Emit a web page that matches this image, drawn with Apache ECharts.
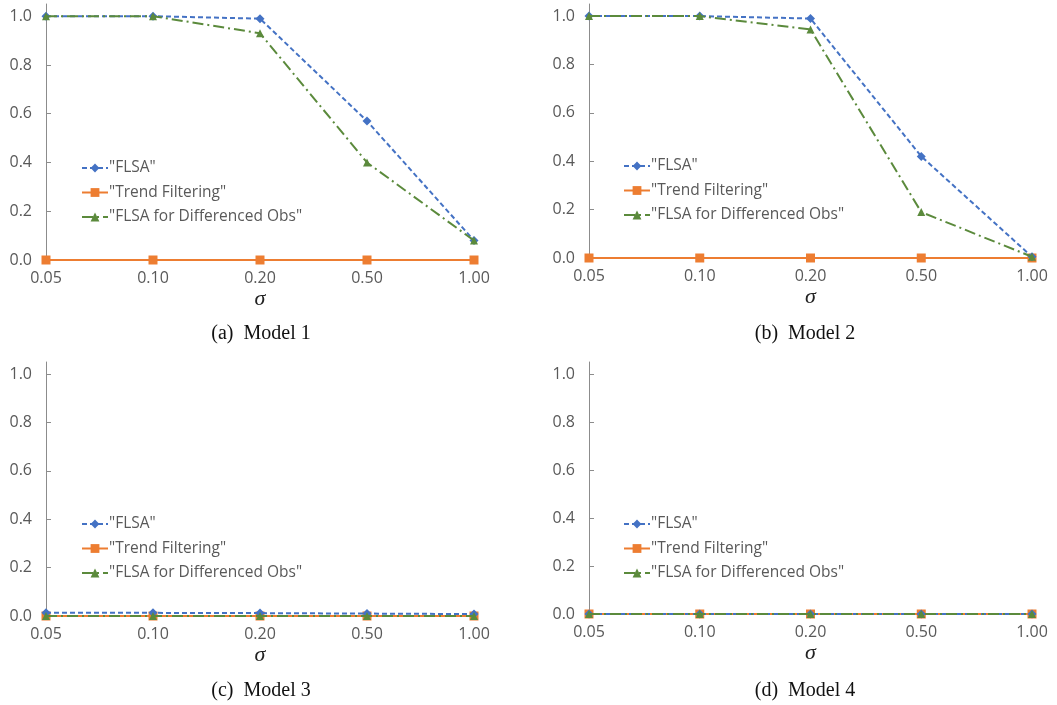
<!DOCTYPE html>
<html>
<head>
<meta charset="utf-8">
<script src="https://cdn.jsdelivr.net/npm/echarts@6/dist/echarts.min.js"></script>
<style>
  html, body { margin: 0; padding: 0; background: #fff; }
  #chart { width: 1057px; height: 705px; }
</style>
</head>
<body>
<div id="chart"></div>
<script>
// sigma levels on the x axis
const sigmas = ['0.05', '0.10', '0.20', '0.50', '1.00'];
const yTicks = [0, 0.2, 0.4, 0.6, 0.8, 1.0];
const seriesNames = ['"FLSA"', '"Trend Filtering"', '"FLSA for Differenced Obs"'];
const captions = ['(a)  Model 1', '(b)  Model 2', '(c)  Model 3', '(d)  Model 4'];

// values per model
const flsa1 = [1.0, 1.0, 0.99, 0.57, 0.08];
const trend1 = [0, 0, 0, 0, 0];
const diff1 = [1.0, 1.0, 0.93, 0.40, 0.08];

const flsa2 = [1.0, 1.0, 0.99, 0.42, 0.005];
const trend2 = [0, 0, 0, 0, 0];
const diff2 = [1.0, 1.0, 0.945, 0.19, 0.005];

const flsa3 = [0.013, 0.013, 0.012, 0.010, 0.008];
const trend3 = [0, 0, 0, 0, 0];
const diff3 = [0, 0, 0, 0, 0];

const flsa4 = [0, 0, 0, 0, 0];
const trend4 = [0, 0, 0, 0, 0];
const diff4 = [0, 0, 0, 0, 0];

const panels = [
    { data: [flsa1, trend1, diff1], grid: { left: 46, right: 583, top: 4, bottom: 445 }, legend: { left: 76, top: 155 }, cap: { x: 256, y: 319 } },
    { data: [flsa2, trend2, diff2], grid: { left: 589, right: 25, top: 4, bottom: 447 }, legend: { left: 618, top: 153 }, cap: { x: 800, y: 319 } },
    { data: [flsa3, trend3, diff3], grid: { left: 46, right: 583, top: 362, bottom: 89 }, legend: { left: 76, top: 511 }, cap: { x: 256, y: 676 } },
    { data: [flsa4, trend4, diff4], grid: { left: 589, right: 25, top: 362, bottom: 91 }, legend: { left: 618, top: 511 }, cap: { x: 800, y: 676 } }
];

const colors = ['#4472C4', '#ED7D31', '#5B8A3C'];
const symbols = ['diamond', 'rect', 'triangle'];
const symbolSizes = [9, 9, 8];
const lineTypes = [[5, 3], 'solid', [11, 4, 2, 4]];
const labelColor = '#595959';
const uiFont = 'Open Sans';

const option = {
    animation: false,
    backgroundColor: '#fff',
    grid: [],
    xAxis: [],
    yAxis: [],
    legend: [],
    title: [],
    series: []
};

panels.forEach((p, i) => {
    option.grid.push(p.grid);
    option.xAxis.push({
        type: 'category',
        gridIndex: i,
        data: sigmas,
        boundaryGap: false,
        axisLine: { lineStyle: { color: '#d9d9d9' } },
        axisTick: { show: false },
        axisLabel: { color: labelColor, fontSize: 16, fontFamily: uiFont, margin: 10 },
        name: 'σ',
        nameLocation: 'middle',
        nameGap: 28,
        nameTextStyle: { fontFamily: 'Liberation Serif', fontStyle: 'italic', fontSize: 22, color: '#222' }
    });
    option.yAxis.push({
        type: 'value',
        gridIndex: i,
        min: 0,
        max: 1.05,
        splitLine: { show: false },
        axisLine: { show: true, lineStyle: { color: '#8c8c8c' } },
        axisTick: { show: true, inside: true, length: 5, lineStyle: { color: '#8c8c8c' }, customValues: yTicks },
        axisLabel: {
            color: labelColor, fontSize: 16, fontFamily: uiFont, margin: 14,
            customValues: yTicks,
            formatter: v => v.toFixed(1)
        }
    });
    option.legend.push({
        left: p.legend.left,
        top: p.legend.top,
        orient: 'vertical',
        itemGap: 8.5,
        itemWidth: 26,
        itemHeight: 11,
        data: seriesNames,
        textStyle: { color: labelColor, fontSize: 15.5, fontFamily: uiFont, padding: [0, 0, 0, -4] }
    });
    option.title.push({
        text: captions[i],
        left: p.cap.x,
        top: p.cap.y,
        textAlign: 'center',
        textStyle: { fontFamily: 'Liberation Serif', fontWeight: 'normal', fontSize: 20, color: '#111' }
    });
    p.data.forEach((vals, k) => {
        option.series.push({
            name: seriesNames[k],
            type: 'line',
            xAxisIndex: i,
            yAxisIndex: i,
            data: vals,
            symbol: symbols[k],
            symbolSize: symbolSizes[k],
            color: colors[k],
            itemStyle: { color: colors[k] },
            lineStyle: { color: colors[k], width: 2, type: lineTypes[k] },
            z: k === 1 ? 2 : (k === 0 ? 3 : 4)
        });
    });
});

const myChart = echarts.init(document.getElementById('chart'), null, { renderer: 'canvas' });
myChart.setOption(option);
</script>
</body>
</html>
